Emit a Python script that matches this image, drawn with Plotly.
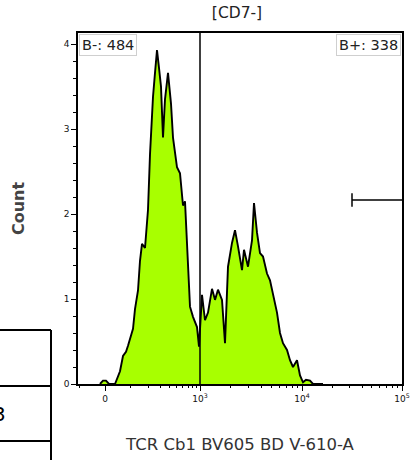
import numpy as np
import plotly.graph_objects as go

# Histogram of TCR Cb1 BV605 (display channels 0-324, biexponential axis)
channel = [22, 25, 28, 31, 37, 39, 42, 45, 48, 50, 52, 55, 57, 60, 62, 64, 67, 70,
           72, 74, 75, 77, 79, 81, 83, 85, 87, 90, 93, 95, 97, 99, 102, 105, 107,
           109, 111, 112, 115, 119, 121, 124, 127, 130, 134, 137, 140, 144, 147,
           150, 154, 157, 160, 164, 166, 170, 174, 176, 179, 182, 185, 189, 192,
           195, 199, 202, 205, 209, 212, 215, 219, 222, 225, 228, 232, 235, 240, 245]
count = [0, 0.04, 0.04, 0, 0, 0.06, 0.15, 0.33, 0.38, 0.45, 0.52, 0.65, 0.88, 1.1,
         1.45, 1.65, 1.6, 2.05, 2.7, 3.2, 3.38, 3.66, 3.93, 3.72, 3.5, 2.9, 3.35,
         3.66, 3.3, 2.9, 2.7, 2.55, 2.48, 2.1, 2.15, 1.7, 1.2, 0.91, 0.79, 0.67,
         0.44, 1.05, 0.75, 0.84, 1.12, 0.99, 1.11, 0.99, 0.48, 1.38, 1.66, 1.81,
         1.62, 1.34, 1.58, 1.38, 1.69, 2.13, 1.78, 1.54, 1.5, 1.3, 1.22, 1.07,
         0.84, 0.6, 0.48, 0.4, 0.28, 0.2, 0.28, 0.1, 0.02, 0.05, 0.04, 0, 0, 0]

# Axis decorations
x_tick_vals = [27, 122, 224, 324]
x_tick_text = ["0", "10<sup>3</sup>", "10<sup>4</sup>", "10<sup>5</sup>"]
y_tick_vals = [0, 1, 2, 3, 4]
y_tick_text = ["0", "1", "2", "3", "4"]

gate_split = 122          # bisector gate position (channel)
range_gate = [274, 324]   # range gate on the right
range_gate_y = 2.165
gate_labels = ["B-: 484", "B+: 338"]

# Plot geometry (pixels)
L, R, T, B = 78, 12, 33, 76
W, H = 414, 460
PW, PH = W - L - R, H - T - B
Y_MAX = 4.13


def px_x(p):
    return (p - L) / PW


def px_y(p):
    return (H - B - p) / PH


# minor ticks: linear-ish segment below 10^3, log decades above
def biex_pos(v, w=120.0):
    return 27 + 95 * np.arcsinh(v / w) / np.arcsinh(1000 / w)


minor_x = [float(biex_pos(v)) for v in [-100] + list(range(100, 1000, 100))]
minor_x += [122 + 102 * np.log10(k) for k in range(2, 10)]
minor_x += [224 + 100 * np.log10(k) for k in range(2, 10)]
minor_y = [round(0.2 * i, 2) for i in range(0, 21) if i % 5 != 0]

fig = go.Figure()
fig.add_trace(go.Scatter(
    x=channel, y=count, mode="lines", fill="tozeroy",
    fillcolor="#a8ff00", line=dict(color="black", width=1.9),
    hoverinfo="skip", showlegend=False,
))

axis_font = dict(family="DejaVu Sans", size=9, color="#111")
fig.update_layout(
    width=W, height=H,
    margin=dict(l=L, r=R, t=T, b=B, autoexpand=False),
    paper_bgcolor="white", plot_bgcolor="white",
    xaxis=dict(
        range=[0, 324], showgrid=False, zeroline=False, automargin=False,
        showline=True, linecolor="black", linewidth=1.5, mirror=True,
        ticks="outside", ticklen=5, tickwidth=1.2, tickcolor="black",
        tickvals=x_tick_vals, ticktext=x_tick_text, tickfont=axis_font,
        minor=dict(tickvals=minor_x, ticks="outside", ticklen=2.5,
                   tickwidth=1.2, tickcolor="black"),
        title=dict(text="TCR Cb1 BV605 BD V-610-A", standoff=36,
                   font=dict(family="DejaVu Sans", size=16.5, color="#333")),
    ),
    yaxis=dict(
        range=[0, Y_MAX], showgrid=False, zeroline=False, automargin=False,
        showline=True, linecolor="black", linewidth=1.5, mirror=True,
        ticks="outside", ticklen=5, tickwidth=1.2, tickcolor="black",
        tickvals=y_tick_vals, ticktext=y_tick_text, tickfont=axis_font,
        minor=dict(tickvals=minor_y, ticks="outside", ticklen=3,
                   tickwidth=1.2, tickcolor="black"),
        title=dict(text="<b>Count</b>", standoff=35,
                   font=dict(family="DejaVu Sans", size=16, color="#444")),
    ),
    title=dict(text="[CD7-]", x=237 / W, xanchor="center",
               y=1 - 13 / H, yanchor="middle",
               font=dict(family="DejaVu Sans", size=15.5, color="#222")),
)

# Bisector gate line
fig.add_shape(type="line", xref="x", yref="paper", x0=gate_split, x1=gate_split,
              y0=0, y1=1, line=dict(color="black", width=1.5))
# Range gate
fig.add_shape(type="line", xref="x", yref="y", x0=range_gate[0], x1=range_gate[1],
              y0=range_gate_y, y1=range_gate_y, line=dict(color="black", width=1.5))
fig.add_shape(type="line", xref="x", yref="y", x0=range_gate[0], x1=range_gate[0],
              y0=range_gate_y - 0.08, y1=range_gate_y + 0.08,
              line=dict(color="black", width=1.5))

# Gate count labels
label_font = dict(family="DejaVu Sans", size=14.5, color="#222")
fig.add_annotation(text=gate_labels[0], xref="paper", yref="paper",
                   x=px_x(79), y=px_y(34), xanchor="left", yanchor="top",
                   showarrow=False, font=label_font, bgcolor="white",
                   bordercolor="#cfcfcf", borderwidth=1, borderpad=2)
fig.add_annotation(text=gate_labels[1], xref="paper", yref="paper",
                   x=px_x(401), y=px_y(34), xanchor="right", yanchor="top",
                   showarrow=False, font=label_font, bgcolor="white",
                   bordercolor="#cfcfcf", borderwidth=1, borderpad=2)

# Neighbouring table panel at the lower left edge
for y0 in [330, 386, 441]:
    fig.add_shape(type="line", xref="paper", yref="paper",
                  x0=px_x(-2), x1=px_x(51), y0=px_y(y0), y1=px_y(y0),
                  line=dict(color="black", width=2))
fig.add_shape(type="line", xref="paper", yref="paper",
              x0=px_x(51), x1=px_x(51), y0=px_y(330), y1=px_y(462),
              line=dict(color="black", width=2))
fig.add_annotation(text="3", xref="paper", yref="paper",
                   x=px_x(-1), y=px_y(414), xanchor="center", yanchor="middle",
                   showarrow=False,
                   font=dict(family="DejaVu Sans", size=20, color="black"))

fig.write_html("out.html")
